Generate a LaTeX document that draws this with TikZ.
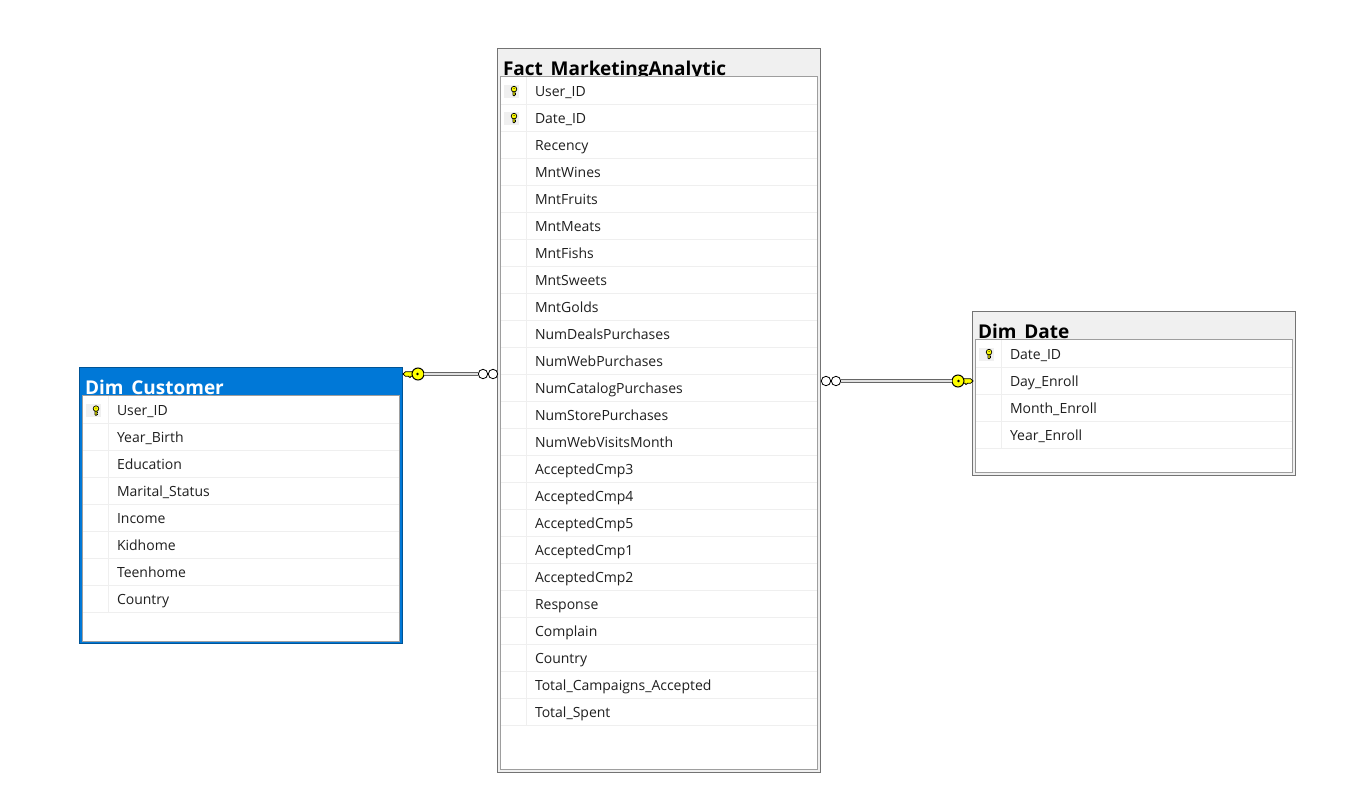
\documentclass[tikz,border=0pt]{standalone}
\usepackage{fontspec}
\setmainfont{Open Sans}
\usepackage{tikz}
\usetikzlibrary{arrows.meta,positioning}

\definecolor{titlegray}{HTML}{F0F0F0}
\definecolor{selblue}{HTML}{0078D7}
\definecolor{rowgray}{HTML}{EFEFEF}
\definecolor{keyyellow}{HTML}{FFFF00}

\begin{document}
\begin{tikzpicture}[
  x=1pt, y=-1pt,
  every node/.style={outer sep=0pt, inner sep=0pt},
  tablebox/.style={rectangle, anchor=north west, draw=black!55, line width=1pt, fill=titlegray, minimum width=323pt},
  selbox/.style={tablebox, draw=black!30!selblue, fill=selblue},
  panel/.style={rectangle, anchor=north west, draw=black!38, line width=1pt, fill=white, minimum width=317pt},
  title/.style={anchor=base west, font=\fontsize{19}{19}\selectfont\bfseries},
  rowtext/.style={anchor=base west, font=\fontsize{14}{14}\selectfont, text=black!88},
  rowline/.style={draw=rowgray, line width=1pt},
  keycell/.style={rectangle, fill=titlegray, minimum width=15pt, minimum height=13pt},
  ring/.style={circle, draw=black, line width=0.8pt, fill=white, minimum size=9.4pt},
  rellink/.style={draw=black!60, line width=1pt, double=black!12, double distance=1.8pt},
  keyhead/.style={circle, draw=black, line width=1pt, fill=keyyellow, minimum size=12pt},
  smallkey/.pic={
    \fill[keyyellow, draw=black, line width=0.6pt] (-1,-1) -- (1,-1) -- (1,4.2) -- (0,5) -- (-1,4.2) -- cycle;
    \fill[black] (1,1.6) rectangle (2.2,2.4);
    \fill[black] (1,3.2) rectangle (2.2,4);
    \fill[keyyellow, draw=black, line width=0.7pt] (0,-1.9) circle (2.8);
    \fill[black] (0,-2.4) circle (0.6);
  },
  bigkey/.pic={
    \fill[keyyellow, draw=black, line width=0.8pt] (-15,0) -- (-12.5,-2.3) -- (-4,-2.3) -- (-4,2.3) -- (-7,2.3) -- (-8,3.6) -- (-9.5,2.3) -- (-12.5,2.3) -- cycle;
    \node[keyhead] (head) at (0,0) {};
    \fill[black] (-0.5,0) circle (1.4);
  }
]
\useasboundingbox (0,0) rectangle (1353,790);

% --- DIM CUSTOMER ---
\node[selbox, minimum height=276pt] (cust) at (79.5,367.5) {};
\node[title, text=white] (custtitle) at (85,394.5) {Dim\_Customer};
\node[panel, minimum height=246pt] (custpanel) at (82.5,395.5) {};
\draw[rowline] (108.5,396) -- (108.5,612);
\foreach \name [count=\i from 0] in {User\_ID, Year\_Birth, Education, Marital\_Status, Income, Kidhome, Teenhome, Country} {
  \node[rowtext] (cust-\i) at (117,415+27*\i) {\name};
  \draw[rowline] (83,423.5+27*\i) -- (399,423.5+27*\i);
}
\node[keycell] (custcell) at (93.5,410.5) {};
\pic at (96,410.5) {smallkey};

% --- FACT TABLE ---
\node[tablebox, minimum height=723.5pt] (fact) at (497.5,48.5) {};
\node[title] (facttitle) at (503,75.5) {Fact\_MarketingAnalytic};
\node[panel, minimum height=693pt] (factpanel) at (500.5,76.5) {};
\draw[rowline] (526.5,77) -- (526.5,725);
\foreach \name [count=\i from 0] in {User\_ID, Date\_ID, Recency, MntWines, MntFruits, MntMeats, MntFishs, MntSweets, MntGolds, NumDealsPurchases, NumWebPurchases, NumCatalogPurchases, NumStorePurchases, NumWebVisitsMonth, AcceptedCmp3, AcceptedCmp4, AcceptedCmp5, AcceptedCmp1, AcceptedCmp2, Response, Complain, Country, Total\_Campaigns\_Accepted, Total\_Spent} {
  \node[rowtext] (fact-\i) at (535,96+27*\i) {\name};
  \draw[rowline] (501,104.5+27*\i) -- (817,104.5+27*\i);
}
\node[keycell] (factcella) at (511.5,91) {};
\node[keycell] (factcellb) at (511.5,118) {};
\pic at (514,91) {smallkey};
\pic at (514,118) {smallkey};

% --- DIM DATE ---
\node[tablebox, minimum height=163.5pt] (date) at (972.5,311.5) {};
\node[title] (datetitle) at (978,338.5) {Dim\_Date};
\node[panel, minimum height=133pt] (datepanel) at (975.5,339.5) {};
\draw[rowline] (1001.5,340) -- (1001.5,448);
\foreach \name [count=\i from 0] in {Date\_ID, Day\_Enroll, Month\_Enroll, Year\_Enroll} {
  \node[rowtext] (date-\i) at (1010,359+27*\i) {\name};
  \draw[rowline] (976,367.5+27*\i) -- (1292,367.5+27*\i);
}
\node[keycell] (datecell) at (986.5,354) {};
\pic at (989,354) {smallkey};

% --- RELATIONSHIPS ---
\pic (custkey) at (418,374) {bigkey};
\node[ring] (custringa) at (483,374) {};
\node[ring] (custringb) at (493,374) {};
\draw[rellink] (custkeyhead) -- (custringa);

\pic[xscale=-1] (datekey) at (958,381) {bigkey};
\node[ring] (dateringa) at (826,381) {};
\node[ring] (dateringb) at (836,381) {};
\draw[rellink] (dateringb) -- (datekeyhead);

\end{tikzpicture}
\end{document}
